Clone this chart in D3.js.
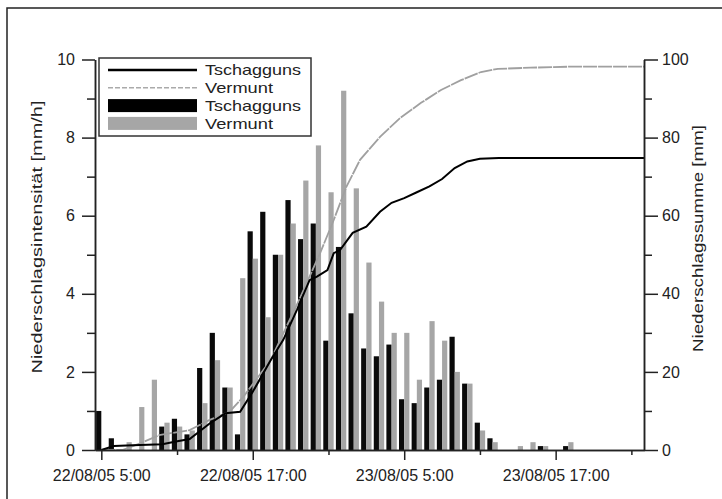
<!DOCTYPE html>
<html>
<head>
<meta charset="utf-8">
<script src="https://cdn.jsdelivr.net/npm/d3@7"></script>
<style>
  body { margin: 0; background: #fff; }
  svg text { font-family: "Liberation Sans", Arial, sans-serif; fill: #222; }
</style>
</head>
<body>
<div id="chart"></div>
<script>
(function () {
    /* ----------------------- Data ----------------------- */
    // hourly precipitation intensity [mm/h], first bar at 22/08/05 5:00
    const barStart = "22/08/05 5:00";
    const tschaggunsBars = [1.0, 0.3, 0, 0, 0, 0.6, 0.8, 0.4, 2.1, 3.0, 1.6, 0.4, 5.6, 6.1, 5.0, 6.4, 5.4, 5.8, 2.8,
        5.2, 3.5, 2.6, 2.4, 2.7, 1.3, 1.2, 1.6, 1.8, 2.9, 1.7, 0.7, 0.3, 0, 0, 0, 0.1, 0, 0.1];
    const vermuntBars = [0, 0, 0.2, 1.1, 1.8, 0.7, 0.6, 0.5, 1.2, 2.3, 1.6, 4.4, 4.9, 3.4, 5.0, 5.8, 6.9, 7.8, 6.6,
        9.2, 6.7, 4.8, 3.8, 3.0, 3.0, 1.8, 3.3, 2.8, 2.0, 1.7, 0.5, 0.2, 0, 0.1, 0.2, 0.1, 0, 0.2];

    // cumulative precipitation [mm]
    const tschaggunsSumTimes = ["22/08/05 5:00", "22/08/05 6:00", "22/08/05 7:30", "22/08/05 9:50", "22/08/05 10:55",
        "22/08/05 12:00", "22/08/05 13:35", "22/08/05 14:50", "22/08/05 16:00", "22/08/05 17:00", "22/08/05 18:25",
        "22/08/05 19:25", "22/08/05 20:30", "22/08/05 21:30", "22/08/05 22:05", "22/08/05 22:55", "22/08/05 23:25",
        "22/08/05 23:55", "23/08/05 0:55", "23/08/05 2:00", "23/08/05 3:05", "23/08/05 4:00", "23/08/05 5:00",
        "23/08/05 6:00", "23/08/05 7:00", "23/08/05 8:00", "23/08/05 9:00", "23/08/05 10:00", "23/08/05 11:00",
        "23/08/05 12:30", "24/08/05 0:00"];
    const tschaggunsSum = [0, 1.0, 1.2, 1.5, 2.2, 2.8, 6.8, 9.4, 9.8, 14.9, 23.0, 28.2, 35.9, 43.5, 44.4, 46.1, 50.4,
        51.2, 55.6, 57.2, 61.0, 63.3, 64.5, 66.0, 67.5, 69.4, 72.2, 73.9, 74.6, 74.8, 74.8];
    const vermuntSumTimes = ["22/08/05 5:00", "22/08/05 6:40", "22/08/05 8:05", "22/08/05 9:35", "22/08/05 12:00",
        "22/08/05 13:35", "22/08/05 15:10", "22/08/05 16:15", "22/08/05 18:25", "22/08/05 20:40", "22/08/05 22:20",
        "22/08/05 23:25", "23/08/05 0:25", "23/08/05 1:30", "23/08/05 3:05", "23/08/05 4:40", "23/08/05 6:20",
        "23/08/05 7:55", "23/08/05 9:30", "23/08/05 11:05", "23/08/05 12:25", "23/08/05 15:00", "23/08/05 18:30",
        "24/08/05 0:00"];
    const vermuntSum = [0, 0, 1.7, 3.8, 5.1, 7.7, 9.8, 13.6, 23.0, 38.4, 50.4, 58.9, 67.4, 74.3, 80.2, 85.0, 88.9,
        92.2, 94.7, 96.8, 97.6, 97.9, 98.2, 98.2];

    const xDomain = ["22/08/05 4:30", "24/08/05 0:00"];
    const xMajorTicks = ["22/08/05 5:00", "22/08/05 17:00", "23/08/05 5:00", "23/08/05 17:00"];
    const xMinorTicks = ["22/08/05 11:00", "22/08/05 23:00", "23/08/05 11:00", "23/08/05 23:00"];
    const leftTicks = [0, 2, 4, 6, 8, 10];
    const leftMinor = [1, 3, 5, 7, 9];
    const rightTicks = [0, 20, 40, 60, 80, 100];
    const rightMinor = [10, 30, 50, 70, 90];

    const legendItems = [
        { label: "Tschagguns", type: "line", color: "#000" },
        { label: "Vermunt", type: "dash", color: "#aaa" },
        { label: "Tschagguns", type: "bar", color: "#000" },
        { label: "Vermunt", type: "bar", color: "#a6a6a6" }
    ];

    /* ----------------------- Setup ----------------------- */
    const W = 722, H = 499;
    const plot = { left: 95, right: 644, top: 59.5, bottom: 450 };
    const parse = d3.timeParse("%d/%m/%y %H:%M");

    const svg = d3.select("#chart").append("svg")
        .attr("width", W).attr("height", H);

    // outer frame
    svg.append("rect")
        .attr("x", 7).attr("y", 8).attr("width", 800).attr("height", 600)
        .attr("fill", "none").attr("stroke", "#222").attr("stroke-width", 1.5);

    const x = d3.scaleTime().domain(xDomain.map(parse)).range([plot.left, plot.right]);
    const yL = d3.scaleLinear().domain([0, 10]).range([plot.bottom, plot.top]);
    const yR = d3.scaleLinear().domain([0, 100]).range([plot.bottom, plot.top]);

    /* ----------------------- Bars ----------------------- */
    const t0 = parse(barStart);
    const barData = tschaggunsBars.map((v, i) => ({
        t: d3.timeHour.offset(t0, i), black: v, gray: vermuntBars[i]
    }));
    const bw = 5.2;

    svg.append("g").selectAll("rect")
        .data(barData.filter(d => d.black > 0))
        .join("rect")
        .attr("x", d => Math.max(plot.left, x(d.t) - bw))
        .attr("y", d => yL(d.black))
        .attr("width", d => x(d.t) - Math.max(plot.left, x(d.t) - bw))
        .attr("height", d => plot.bottom - yL(d.black))
        .attr("fill", "#0a0a0a");

    svg.append("g").selectAll("rect")
        .data(barData.filter(d => d.gray > 0))
        .join("rect")
        .attr("x", d => x(d.t))
        .attr("y", d => yL(d.gray))
        .attr("width", bw)
        .attr("height", d => plot.bottom - yL(d.gray))
        .attr("fill", "#a6a6a6");

    /* ----------------------- Cumulative lines ----------------------- */
    const line = d3.line().x(d => x(d[0])).y(d => yR(d[1]));

    svg.append("path")
        .datum(vermuntSumTimes.map((t, i) => [parse(t), vermuntSum[i]]))
        .attr("d", line)
        .attr("fill", "none").attr("stroke", "#a0a0a0").attr("stroke-width", 1.8)
        .attr("stroke-dasharray", "14,1");

    svg.append("path")
        .datum(tschaggunsSumTimes.map((t, i) => [parse(t), tschaggunsSum[i]]))
        .attr("d", line)
        .attr("fill", "none").attr("stroke", "#000").attr("stroke-width", 2);

    /* ----------------------- Axes ----------------------- */
    const styleAxis = g => {
        g.select(".domain").attr("stroke", "#222").attr("stroke-width", 1.5);
        g.selectAll(".tick line").attr("stroke", "#222").attr("stroke-width", 1.5);
        g.selectAll(".tick text").attr("font-size", 16).attr("font-family", "Liberation Sans, Arial, sans-serif").attr("fill", "#222");
    };

    svg.append("g")
        .attr("transform", `translate(0,${plot.bottom})`)
        .call(d3.axisBottom(x).tickValues(xMinorTicks.map(parse)).tickSize(5).tickFormat("").tickSizeOuter(0))
        .call(styleAxis);
    svg.append("g")
        .attr("transform", `translate(0,${plot.bottom})`)
        .call(d3.axisBottom(x).tickValues(xMajorTicks.map(parse)).tickSize(10).tickPadding(10)
            .tickFormat(d3.timeFormat("%d/%m/%y %-H:%M")).tickSizeOuter(0))
        .call(styleAxis);

    svg.append("g")
        .attr("transform", `translate(${plot.left},0)`)
        .call(d3.axisLeft(yL).tickValues(leftMinor).tickSize(8).tickFormat("").tickSizeOuter(0))
        .call(styleAxis);
    svg.append("g")
        .attr("transform", `translate(${plot.left},0)`)
        .call(d3.axisLeft(yL).tickValues(leftTicks).tickSize(13).tickPadding(7).tickSizeOuter(0))
        .call(styleAxis);

    svg.append("g")
        .attr("transform", `translate(${plot.right},0)`)
        .call(d3.axisRight(yR).tickValues(rightMinor).tickSize(8).tickFormat("").tickSizeOuter(0))
        .call(styleAxis);
    svg.append("g")
        .attr("transform", `translate(${plot.right},0)`)
        .call(d3.axisRight(yR).tickValues(rightTicks).tickSize(14).tickPadding(4).tickSizeOuter(0))
        .call(styleAxis);

    /* ----------------------- Axis titles ----------------------- */
    svg.append("text")
        .attr("transform", "translate(37,237) rotate(-90)")
        .attr("text-anchor", "middle").attr("dy", "0.35em")
        .attr("font-size", 15)
        .attr("textLength", 273).attr("lengthAdjust", "spacingAndGlyphs")
        .text("Niederschlagsintensität [mm/h]");

    svg.append("text")
        .attr("transform", "translate(698,238.5) rotate(-90)")
        .attr("text-anchor", "middle").attr("dy", "0.35em")
        .attr("font-size", 15)
        .attr("textLength", 227).attr("lengthAdjust", "spacingAndGlyphs")
        .text("Niederschlagssumme [mm]");

    /* ----------------------- Legend ----------------------- */
    const legend = svg.append("g");
    legend.append("rect")
        .attr("x", 99).attr("y", 58).attr("width", 212).attr("height", 78)
        .attr("fill", "#fff").attr("stroke", "#333").attr("stroke-width", 1.5);

    const rowY = i => 70 + i * 17.8;
    legendItems.forEach((d, i) => {
        const cy = rowY(i);
        if (d.type === "bar") {
            legend.append("rect")
                .attr("x", 108).attr("y", cy - 6.5).attr("width", 89).attr("height", 13)
                .attr("fill", d.color);
        } else {
            legend.append("line")
                .attr("x1", 108).attr("x2", 197).attr("y1", cy).attr("y2", cy)
                .attr("stroke", d.color)
                .attr("stroke-width", d.type === "line" ? 2.5 : 1.6)
                .attr("stroke-dasharray", d.type === "dash" ? "5,2" : null);
        }
        legend.append("text")
            .attr("x", 205).attr("y", cy).attr("dy", "0.35em")
            .attr("font-size", 15)
            .attr("textLength", d.label === "Tschagguns" ? 96 : 68)
            .attr("lengthAdjust", "spacingAndGlyphs")
            .text(d.label);
    });
})();
</script>
</body>
</html>
